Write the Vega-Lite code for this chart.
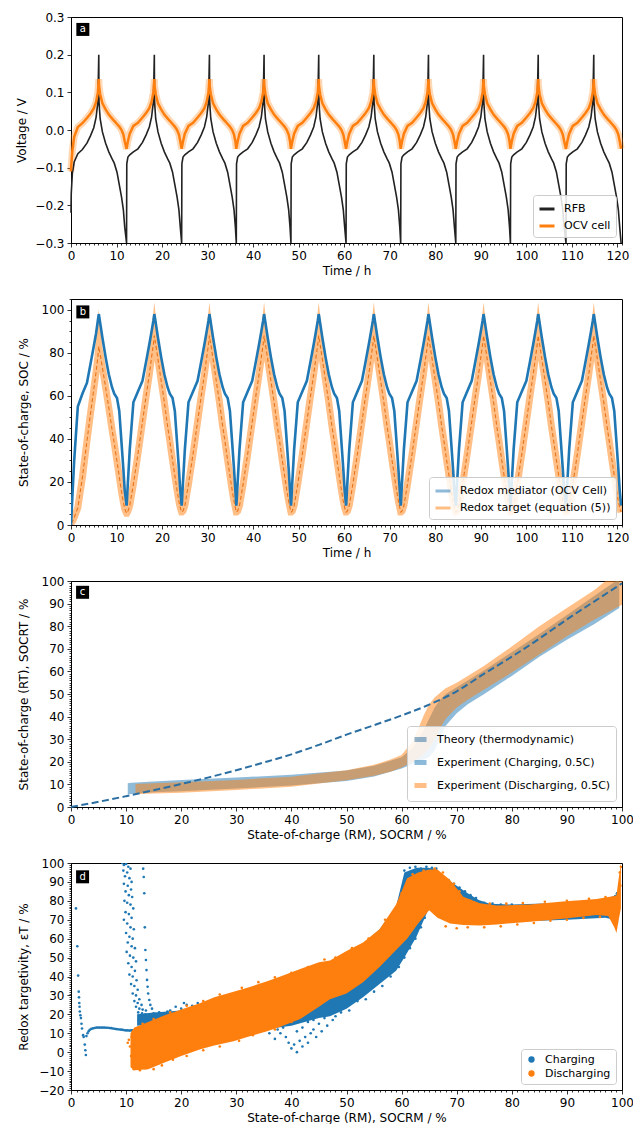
{
"$schema":"https://vega.github.io/schema/vega-lite/v6.json",
"padding":{"left":15,"top":10,"right":0,"bottom":0},
"spacing":56,
"bounds":"flush",
"config":{
 "font":"DejaVu Sans",
 "view":{"stroke":"#000","strokeWidth":1},
 "axis":{"labelFont":"DejaVu Sans","labelFontSize":12,"labelColor":"#000","titleFont":"DejaVu Sans","titleFontSize":12,"titleFontWeight":"normal","titleColor":"#000","domainColor":"#000","domainWidth":1,"tickColor":"#000","tickWidth":0.8,"tickSize":4,"grid":false,"labelFlush":false,"labelOverlap":false,"labelPadding":3},
 "legend":{"labelFont":"DejaVu Sans","labelFontSize":11,"labelColor":"#000","labelLimit":400,"fillColor":"rgba(255,255,255,0.85)","strokeColor":"#cccccc","cornerRadius":3,"padding":5,"offset":6,"labelOffset":8,"rowPadding":2,"orient":"bottom-right"}
},
"datasets":{
"ts":[
{"t":0,"v":-0.22,"o":-0.11,"m":0,"r":1},
{"t":0.05,"v":-0.17,"o":-0.095,"m":2,"r":1},
{"t":0.3,"v":-0.115,"o":-0.055,"m":13,"r":1.5},
{"t":0.7,"v":-0.085,"o":-0.018,"m":30,"r":3.5},
{"t":1.5,"v":-0.063,"o":0.008,"m":55,"r":8},
{"t":2.5,"v":-0.052,"o":0.018,"m":61,"r":22},
{"t":3.5,"v":-0.035,"o":0.032,"m":66,"r":39},
{"t":4.3,"v":-0.015,"o":0.044,"m":75,"r":52},
{"t":5.0,"v":0.006,"o":0.057,"m":83,"r":63},
{"t":5.5,"v":0.033,"o":0.074,"m":89,"r":71},
{"t":5.9,"v":0.073,"o":0.099,"m":95,"r":78},
{"t":6.1,"v":0.2,"o":0.135,"m":98,"r":83},
{"t":6.15,"v":0.075,"o":0.118,"m":97.5,"r":82},
{"t":6.4,"v":0.03,"o":0.095,"m":94,"r":79.5},
{"t":6.9,"v":-0.005,"o":0.071,"m":87,"r":73},
{"t":7.6,"v":-0.035,"o":0.055,"m":78,"r":64},
{"t":8.3,"v":-0.058,"o":0.041,"m":70,"r":54.5},
{"t":9.0,"v":-0.076,"o":0.031,"m":64,"r":44.5},
{"t":9.5,"v":-0.088,"o":0.024,"m":61,"r":38},
{"t":10.1,"v":-0.112,"o":0.016,"m":59,"r":29.5},
{"t":10.6,"v":-0.145,"o":0.009,"m":53,"r":22.5},
{"t":11.1,"v":-0.178,"o":0,"m":38,"r":15.5},
{"t":11.5,"v":-0.212,"o":-0.012,"m":26,"r":10.5},
{"t":11.8,"v":-0.258,"o":-0.03,"m":16,"r":7.5},
{"t":12.2,"v":-0.3,"o":-0.05,"m":9,"r":5.5},
{"t":12.25,"v":-0.09,"o":-0.046,"m":10,"r":5.5},
{"t":12.5,"v":-0.072,"o":-0.03,"m":20,"r":6.5},
{"t":12.9,"v":-0.066,"o":-0.01,"m":35,"r":9},
{"t":13.7,"v":-0.058,"o":0.011,"m":57,"r":19},
{"t":14.7,"v":-0.05,"o":0.019,"m":62,"r":33},
{"t":15.7,"v":-0.033,"o":0.033,"m":67,"r":48},
{"t":16.5,"v":-0.013,"o":0.045,"m":76,"r":60},
{"t":17.2,"v":0.008,"o":0.058,"m":84,"r":70},
{"t":17.7,"v":0.035,"o":0.075,"m":90,"r":78},
{"t":18.1,"v":0.075,"o":0.1,"m":95,"r":84},
{"t":18.3,"v":0.2,"o":0.135,"m":98,"r":88},
{"t":18.35,"v":0.075,"o":0.118,"m":97.5,"r":87},
{"t":18.6,"v":0.03,"o":0.095,"m":94,"r":84},
{"t":19.1,"v":-0.005,"o":0.071,"m":87,"r":77},
{"t":19.8,"v":-0.035,"o":0.055,"m":78,"r":67},
{"t":20.5,"v":-0.058,"o":0.041,"m":70,"r":57},
{"t":21.2,"v":-0.076,"o":0.031,"m":64,"r":46},
{"t":21.7,"v":-0.088,"o":0.024,"m":61,"r":39},
{"t":22.3,"v":-0.112,"o":0.016,"m":59,"r":30},
{"t":22.8,"v":-0.145,"o":0.009,"m":53,"r":23},
{"t":23.3,"v":-0.178,"o":0,"m":38,"r":16},
{"t":23.7,"v":-0.212,"o":-0.012,"m":26,"r":11},
{"t":24.0,"v":-0.258,"o":-0.03,"m":16,"r":8},
{"t":24.3,"v":-0.3,"o":-0.05,"m":9,"r":6},
{"t":24.35,"v":-0.09,"o":-0.046,"m":10,"r":6},
{"t":24.6,"v":-0.072,"o":-0.03,"m":20,"r":6.5},
{"t":25.0,"v":-0.066,"o":-0.01,"m":35,"r":9},
{"t":25.8,"v":-0.058,"o":0.011,"m":57,"r":19},
{"t":26.8,"v":-0.05,"o":0.019,"m":62,"r":33},
{"t":27.8,"v":-0.033,"o":0.033,"m":67,"r":48},
{"t":28.6,"v":-0.013,"o":0.045,"m":76,"r":60},
{"t":29.3,"v":0.008,"o":0.058,"m":84,"r":70},
{"t":29.8,"v":0.035,"o":0.075,"m":90,"r":78},
{"t":30.2,"v":0.075,"o":0.1,"m":95,"r":84},
{"t":30.4,"v":0.2,"o":0.135,"m":98,"r":88},
{"t":30.45,"v":0.075,"o":0.118,"m":97.5,"r":87},
{"t":30.7,"v":0.03,"o":0.095,"m":94,"r":84},
{"t":31.2,"v":-0.005,"o":0.071,"m":87,"r":77},
{"t":31.9,"v":-0.035,"o":0.055,"m":78,"r":67},
{"t":32.6,"v":-0.058,"o":0.041,"m":70,"r":57},
{"t":33.3,"v":-0.076,"o":0.031,"m":64,"r":46},
{"t":33.8,"v":-0.088,"o":0.024,"m":61,"r":39},
{"t":34.4,"v":-0.112,"o":0.016,"m":59,"r":30},
{"t":34.9,"v":-0.145,"o":0.009,"m":53,"r":23},
{"t":35.4,"v":-0.178,"o":0,"m":38,"r":16},
{"t":35.8,"v":-0.212,"o":-0.012,"m":26,"r":11},
{"t":36.1,"v":-0.258,"o":-0.03,"m":16,"r":8},
{"t":36.3,"v":-0.3,"o":-0.05,"m":9,"r":6},
{"t":36.35,"v":-0.09,"o":-0.046,"m":10,"r":6},
{"t":36.6,"v":-0.072,"o":-0.03,"m":20,"r":6.5},
{"t":37.0,"v":-0.066,"o":-0.01,"m":35,"r":9},
{"t":37.8,"v":-0.058,"o":0.011,"m":57,"r":19},
{"t":38.8,"v":-0.05,"o":0.019,"m":62,"r":33},
{"t":39.8,"v":-0.033,"o":0.033,"m":67,"r":48},
{"t":40.6,"v":-0.013,"o":0.045,"m":76,"r":60},
{"t":41.3,"v":0.008,"o":0.058,"m":84,"r":70},
{"t":41.8,"v":0.035,"o":0.075,"m":90,"r":78},
{"t":42.2,"v":0.075,"o":0.1,"m":95,"r":84},
{"t":42.4,"v":0.2,"o":0.135,"m":98,"r":88},
{"t":42.45,"v":0.075,"o":0.118,"m":97.5,"r":87},
{"t":42.7,"v":0.03,"o":0.095,"m":94,"r":84},
{"t":43.2,"v":-0.005,"o":0.071,"m":87,"r":77},
{"t":43.9,"v":-0.035,"o":0.055,"m":78,"r":67},
{"t":44.6,"v":-0.058,"o":0.041,"m":70,"r":57},
{"t":45.3,"v":-0.076,"o":0.031,"m":64,"r":46},
{"t":45.8,"v":-0.088,"o":0.024,"m":61,"r":39},
{"t":46.4,"v":-0.112,"o":0.016,"m":59,"r":30},
{"t":46.9,"v":-0.145,"o":0.009,"m":53,"r":23},
{"t":47.4,"v":-0.178,"o":0,"m":38,"r":16},
{"t":47.8,"v":-0.212,"o":-0.012,"m":26,"r":11},
{"t":48.1,"v":-0.258,"o":-0.03,"m":16,"r":8},
{"t":48.3,"v":-0.3,"o":-0.05,"m":9,"r":6},
{"t":48.35,"v":-0.09,"o":-0.046,"m":10,"r":6},
{"t":48.6,"v":-0.072,"o":-0.03,"m":20,"r":6.5},
{"t":49.0,"v":-0.066,"o":-0.01,"m":35,"r":9},
{"t":49.8,"v":-0.058,"o":0.011,"m":57,"r":19},
{"t":50.8,"v":-0.05,"o":0.019,"m":62,"r":33},
{"t":51.8,"v":-0.033,"o":0.033,"m":67,"r":48},
{"t":52.6,"v":-0.013,"o":0.045,"m":76,"r":60},
{"t":53.3,"v":0.008,"o":0.058,"m":84,"r":70},
{"t":53.8,"v":0.035,"o":0.075,"m":90,"r":78},
{"t":54.2,"v":0.075,"o":0.1,"m":95,"r":84},
{"t":54.4,"v":0.2,"o":0.135,"m":98,"r":88},
{"t":54.45,"v":0.075,"o":0.118,"m":97.5,"r":87},
{"t":54.7,"v":0.03,"o":0.095,"m":94,"r":84},
{"t":55.2,"v":-0.005,"o":0.071,"m":87,"r":77},
{"t":55.9,"v":-0.035,"o":0.055,"m":78,"r":67},
{"t":56.6,"v":-0.058,"o":0.041,"m":70,"r":57},
{"t":57.3,"v":-0.076,"o":0.031,"m":64,"r":46},
{"t":57.8,"v":-0.088,"o":0.024,"m":61,"r":39},
{"t":58.4,"v":-0.112,"o":0.016,"m":59,"r":30},
{"t":58.9,"v":-0.145,"o":0.009,"m":53,"r":23},
{"t":59.4,"v":-0.178,"o":0,"m":38,"r":16},
{"t":59.8,"v":-0.212,"o":-0.012,"m":26,"r":11},
{"t":60.1,"v":-0.258,"o":-0.03,"m":16,"r":8},
{"t":60.4,"v":-0.3,"o":-0.05,"m":9,"r":6},
{"t":60.45,"v":-0.09,"o":-0.046,"m":10,"r":6},
{"t":60.7,"v":-0.072,"o":-0.03,"m":20,"r":6.5},
{"t":61.1,"v":-0.066,"o":-0.01,"m":35,"r":9},
{"t":61.9,"v":-0.058,"o":0.011,"m":57,"r":19},
{"t":62.9,"v":-0.05,"o":0.019,"m":62,"r":33},
{"t":63.9,"v":-0.033,"o":0.033,"m":67,"r":48},
{"t":64.7,"v":-0.013,"o":0.045,"m":76,"r":60},
{"t":65.4,"v":0.008,"o":0.058,"m":84,"r":70},
{"t":65.9,"v":0.035,"o":0.075,"m":90,"r":78},
{"t":66.3,"v":0.075,"o":0.1,"m":95,"r":84},
{"t":66.5,"v":0.2,"o":0.135,"m":98,"r":88},
{"t":66.55,"v":0.075,"o":0.118,"m":97.5,"r":87},
{"t":66.8,"v":0.03,"o":0.095,"m":94,"r":84},
{"t":67.3,"v":-0.005,"o":0.071,"m":87,"r":77},
{"t":68.0,"v":-0.035,"o":0.055,"m":78,"r":67},
{"t":68.7,"v":-0.058,"o":0.041,"m":70,"r":57},
{"t":69.4,"v":-0.076,"o":0.031,"m":64,"r":46},
{"t":69.9,"v":-0.088,"o":0.024,"m":61,"r":39},
{"t":70.5,"v":-0.112,"o":0.016,"m":59,"r":30},
{"t":71.0,"v":-0.145,"o":0.009,"m":53,"r":23},
{"t":71.5,"v":-0.178,"o":0,"m":38,"r":16},
{"t":71.9,"v":-0.212,"o":-0.012,"m":26,"r":11},
{"t":72.2,"v":-0.258,"o":-0.03,"m":16,"r":8},
{"t":72.4,"v":-0.3,"o":-0.05,"m":9,"r":6},
{"t":72.45,"v":-0.09,"o":-0.046,"m":10,"r":6},
{"t":72.7,"v":-0.072,"o":-0.03,"m":20,"r":6.5},
{"t":73.1,"v":-0.066,"o":-0.01,"m":35,"r":9},
{"t":73.9,"v":-0.058,"o":0.011,"m":57,"r":19},
{"t":74.9,"v":-0.05,"o":0.019,"m":62,"r":33},
{"t":75.9,"v":-0.033,"o":0.033,"m":67,"r":48},
{"t":76.7,"v":-0.013,"o":0.045,"m":76,"r":60},
{"t":77.4,"v":0.008,"o":0.058,"m":84,"r":70},
{"t":77.9,"v":0.035,"o":0.075,"m":90,"r":78},
{"t":78.3,"v":0.075,"o":0.1,"m":95,"r":84},
{"t":78.5,"v":0.2,"o":0.135,"m":98,"r":88},
{"t":78.55,"v":0.075,"o":0.118,"m":97.5,"r":87},
{"t":78.8,"v":0.03,"o":0.095,"m":94,"r":84},
{"t":79.3,"v":-0.005,"o":0.071,"m":87,"r":77},
{"t":80.0,"v":-0.035,"o":0.055,"m":78,"r":67},
{"t":80.7,"v":-0.058,"o":0.041,"m":70,"r":57},
{"t":81.4,"v":-0.076,"o":0.031,"m":64,"r":46},
{"t":81.9,"v":-0.088,"o":0.024,"m":61,"r":39},
{"t":82.5,"v":-0.112,"o":0.016,"m":59,"r":30},
{"t":83.0,"v":-0.145,"o":0.009,"m":53,"r":23},
{"t":83.5,"v":-0.178,"o":0,"m":38,"r":16},
{"t":83.9,"v":-0.212,"o":-0.012,"m":26,"r":11},
{"t":84.2,"v":-0.258,"o":-0.03,"m":16,"r":8},
{"t":84.5,"v":-0.3,"o":-0.05,"m":9,"r":6},
{"t":84.55,"v":-0.09,"o":-0.046,"m":10,"r":6},
{"t":84.8,"v":-0.072,"o":-0.03,"m":20,"r":6.5},
{"t":85.2,"v":-0.066,"o":-0.01,"m":35,"r":9},
{"t":86.0,"v":-0.058,"o":0.011,"m":57,"r":19},
{"t":87.0,"v":-0.05,"o":0.019,"m":62,"r":33},
{"t":88.0,"v":-0.033,"o":0.033,"m":67,"r":48},
{"t":88.8,"v":-0.013,"o":0.045,"m":76,"r":60},
{"t":89.5,"v":0.008,"o":0.058,"m":84,"r":70},
{"t":90.0,"v":0.035,"o":0.075,"m":90,"r":78},
{"t":90.4,"v":0.075,"o":0.1,"m":95,"r":84},
{"t":90.6,"v":0.2,"o":0.135,"m":98,"r":88},
{"t":90.65,"v":0.075,"o":0.118,"m":97.5,"r":87},
{"t":90.9,"v":0.03,"o":0.095,"m":94,"r":84},
{"t":91.4,"v":-0.005,"o":0.071,"m":87,"r":77},
{"t":92.1,"v":-0.035,"o":0.055,"m":78,"r":67},
{"t":92.8,"v":-0.058,"o":0.041,"m":70,"r":57},
{"t":93.5,"v":-0.076,"o":0.031,"m":64,"r":46},
{"t":94.0,"v":-0.088,"o":0.024,"m":61,"r":39},
{"t":94.6,"v":-0.112,"o":0.016,"m":59,"r":30},
{"t":95.1,"v":-0.145,"o":0.009,"m":53,"r":23},
{"t":95.6,"v":-0.178,"o":0,"m":38,"r":16},
{"t":96.0,"v":-0.212,"o":-0.012,"m":26,"r":11},
{"t":96.3,"v":-0.258,"o":-0.03,"m":16,"r":8},
{"t":96.5,"v":-0.3,"o":-0.05,"m":9,"r":6},
{"t":96.55,"v":-0.09,"o":-0.046,"m":10,"r":6},
{"t":96.8,"v":-0.072,"o":-0.03,"m":20,"r":6.5},
{"t":97.2,"v":-0.066,"o":-0.01,"m":35,"r":9},
{"t":98.0,"v":-0.058,"o":0.011,"m":57,"r":19},
{"t":99.0,"v":-0.05,"o":0.019,"m":62,"r":33},
{"t":100.0,"v":-0.033,"o":0.033,"m":67,"r":48},
{"t":100.8,"v":-0.013,"o":0.045,"m":76,"r":60},
{"t":101.5,"v":0.008,"o":0.058,"m":84,"r":70},
{"t":102.0,"v":0.035,"o":0.075,"m":90,"r":78},
{"t":102.4,"v":0.075,"o":0.1,"m":95,"r":84},
{"t":102.6,"v":0.2,"o":0.135,"m":98,"r":88},
{"t":102.65,"v":0.075,"o":0.118,"m":97.5,"r":87},
{"t":102.9,"v":0.03,"o":0.095,"m":94,"r":84},
{"t":103.4,"v":-0.005,"o":0.071,"m":87,"r":77},
{"t":104.1,"v":-0.035,"o":0.055,"m":78,"r":67},
{"t":104.8,"v":-0.058,"o":0.041,"m":70,"r":57},
{"t":105.5,"v":-0.076,"o":0.031,"m":64,"r":46},
{"t":106.0,"v":-0.088,"o":0.024,"m":61,"r":39},
{"t":106.6,"v":-0.112,"o":0.016,"m":59,"r":30},
{"t":107.1,"v":-0.145,"o":0.009,"m":53,"r":23},
{"t":107.6,"v":-0.178,"o":0,"m":38,"r":16},
{"t":108.0,"v":-0.212,"o":-0.012,"m":26,"r":11},
{"t":108.3,"v":-0.258,"o":-0.03,"m":16,"r":8},
{"t":108.7,"v":-0.3,"o":-0.05,"m":9,"r":6},
{"t":108.75,"v":-0.09,"o":-0.046,"m":10,"r":6},
{"t":109.0,"v":-0.072,"o":-0.03,"m":20,"r":6.5},
{"t":109.4,"v":-0.066,"o":-0.01,"m":35,"r":9},
{"t":110.2,"v":-0.058,"o":0.011,"m":57,"r":19},
{"t":111.2,"v":-0.05,"o":0.019,"m":62,"r":33},
{"t":112.2,"v":-0.033,"o":0.033,"m":67,"r":48},
{"t":113.0,"v":-0.013,"o":0.045,"m":76,"r":60},
{"t":113.7,"v":0.008,"o":0.058,"m":84,"r":70},
{"t":114.2,"v":0.035,"o":0.075,"m":90,"r":78},
{"t":114.6,"v":0.075,"o":0.1,"m":95,"r":84},
{"t":114.8,"v":0.2,"o":0.135,"m":98,"r":88},
{"t":114.85,"v":0.075,"o":0.118,"m":97.5,"r":87},
{"t":115.1,"v":0.03,"o":0.095,"m":94,"r":84},
{"t":115.6,"v":-0.005,"o":0.071,"m":87,"r":77},
{"t":116.3,"v":-0.035,"o":0.055,"m":78,"r":67},
{"t":117.0,"v":-0.058,"o":0.041,"m":70,"r":57},
{"t":117.7,"v":-0.076,"o":0.031,"m":64,"r":46},
{"t":118.2,"v":-0.088,"o":0.024,"m":61,"r":39},
{"t":118.8,"v":-0.112,"o":0.016,"m":59,"r":30},
{"t":119.3,"v":-0.145,"o":0.009,"m":53,"r":23},
{"t":119.8,"v":-0.178,"o":0,"m":38,"r":16},
{"t":120.2,"v":-0.212,"o":-0.012,"m":26,"r":11},
{"t":120.5,"v":-0.258,"o":-0.03,"m":16,"r":8},
{"t":120.8,"v":-0.3,"o":-0.05,"m":9,"r":6}
],
"th":[{"x":0,"y":0},{"x":5,"y":2.3},{"x":10,"y":4.8},{"x":15,"y":7.4},{"x":20,"y":10.2},{"x":25,"y":13.1},{"x":30,"y":16.3},{"x":35,"y":19.7},{"x":40,"y":23.3},{"x":45,"y":27.5},{"x":50,"y":32},{"x":55,"y":36.2},{"x":60,"y":40.5},{"x":65,"y":45.3},{"x":70,"y":51.2},{"x":75,"y":59},{"x":80,"y":66.5},{"x":85,"y":74.5},{"x":90,"y":83},{"x":95,"y":91},{"x":100,"y":99}],
"chg":[{"x":10.3,"lo":5.5,"hi":10.5},{"x":11,"lo":5.8,"hi":10.7},{"x":15,"lo":6.5,"hi":11.3},{"x":20,"lo":7,"hi":12},{"x":30,"lo":8.2,"hi":13},{"x":40,"lo":9.5,"hi":14.3},{"x":50,"lo":11.5,"hi":16.2},{"x":55,"lo":13.5,"hi":18.2},{"x":60,"lo":17,"hi":22},{"x":62,"lo":19,"hi":26},{"x":64,"lo":21,"hi":34},{"x":65,"lo":22,"hi":39},{"x":66,"lo":25,"hi":44},{"x":67,"lo":31,"hi":47.5},{"x":68,"lo":36,"hi":50},{"x":70,"lo":41.5,"hi":53},{"x":72,"lo":45.5,"hi":56},{"x":75,"lo":50,"hi":60.5},{"x":80,"lo":58,"hi":68.5},{"x":85,"lo":66.5,"hi":76.5},{"x":90,"lo":74,"hi":85},{"x":95,"lo":81,"hi":93.5},{"x":99.5,"lo":88,"hi":101}],
"dis":[{"x":11.7,"lo":5.6,"hi":10.2},{"x":15,"lo":6,"hi":10.5},{"x":20,"lo":6.3,"hi":11},{"x":30,"lo":7.5,"hi":12},{"x":40,"lo":9,"hi":13.4},{"x":50,"lo":11.8,"hi":16.3},{"x":55,"lo":13.8,"hi":18.7},{"x":58,"lo":15.6,"hi":21},{"x":60,"lo":17.5,"hi":23},{"x":62,"lo":20,"hi":29},{"x":63,"lo":21.5,"hi":34.5},{"x":64,"lo":23.5,"hi":40.5},{"x":65,"lo":26,"hi":45.5},{"x":66,"lo":30,"hi":48.5},{"x":67,"lo":35,"hi":50.5},{"x":68,"lo":39,"hi":52.5},{"x":70,"lo":44,"hi":55},{"x":72,"lo":47.5,"hi":58},{"x":75,"lo":52,"hi":62.5},{"x":80,"lo":59.5,"hi":71},{"x":85,"lo":67.5,"hi":80},{"x":90,"lo":75.5,"hi":88},{"x":95,"lo":83,"hi":96},{"x":100,"lo":89.5,"hi":106}],
"dblue":[{"x":12,"lo":14,"hi":20},{"x":15,"lo":15,"hi":21},{"x":20,"lo":15,"hi":22},{"x":25,"lo":13,"hi":25},{"x":30,"lo":12,"hi":27},{"x":35,"lo":12,"hi":31},{"x":40,"lo":14,"hi":36},{"x":45,"lo":18,"hi":41},{"x":47,"lo":19,"hi":44},{"x":50,"lo":23,"hi":50},{"x":53,"lo":29,"hi":57},{"x":56,"lo":36,"hi":65},{"x":59,"lo":43,"hi":77},{"x":60.5,"lo":50,"hi":95},{"x":62.7,"lo":61,"hi":97.5},{"x":64.8,"lo":75,"hi":97.5},{"x":66,"lo":76,"hi":97},{"x":67,"lo":72,"hi":94},{"x":68,"lo":70,"hi":92},{"x":70,"lo":69,"hi":88},{"x":72,"lo":68,"hi":84},{"x":74,"lo":68,"hi":80.5},{"x":76,"lo":68,"hi":78.5},{"x":80,"lo":69,"hi":78},{"x":90,"lo":70,"hi":79},{"x":97,"lo":71,"hi":81},{"x":98.5,"lo":70,"hi":82.5},{"x":99.3,"lo":68,"hi":84}],
"dorange":[{"x":10.8,"lo":-8,"hi":10},{"x":11.5,"lo":-9.5,"hi":13},{"x":14,"lo":-9,"hi":16},{"x":17,"lo":-5.5,"hi":19.5},{"x":20,"lo":-2,"hi":22.5},{"x":23.5,"lo":1.5,"hi":26},{"x":26,"lo":3.5,"hi":29},{"x":29.5,"lo":5.8,"hi":32},{"x":32,"lo":8,"hi":34},{"x":35.6,"lo":11,"hi":37.5},{"x":38,"lo":13.5,"hi":40},{"x":41.6,"lo":17.5,"hi":44},{"x":45,"lo":24,"hi":47.5},{"x":47,"lo":28,"hi":48.5},{"x":50,"lo":31,"hi":53.5},{"x":53,"lo":37,"hi":58},{"x":56,"lo":45,"hi":65},{"x":59,"lo":54,"hi":78},{"x":61,"lo":60,"hi":92},{"x":63,"lo":68,"hi":95},{"x":65,"lo":75,"hi":96.5},{"x":66.5,"lo":71,"hi":96.5},{"x":68.8,"lo":68,"hi":91},{"x":71.2,"lo":67.2,"hi":82.2},{"x":74.2,"lo":67,"hi":78.7},{"x":77.3,"lo":67.5,"hi":77.5},{"x":83.3,"lo":69,"hi":78},{"x":89.3,"lo":70.5,"hi":79.6},{"x":95.4,"lo":72.5,"hi":81},{"x":97.5,"lo":72,"hi":82},{"x":98.6,"lo":66,"hi":82.5},{"x":99,"lo":63,"hi":83},{"x":99.4,"lo":70,"hi":92},{"x":99.8,"lo":76,"hi":100}],
"dc":[
{"x":0.9,"y":76},{"x":1.15,"y":56},{"x":1.3,"y":40.5},{"x":1.4,"y":32},{"x":1.45,"y":29},{"x":1.5,"y":26},{"x":1.55,"y":24},{"x":1.6,"y":21.5},{"x":1.7,"y":19.5},{"x":1.8,"y":18},{"x":1.9,"y":15},{"x":2.0,"y":12.5},{"x":2.2,"y":9},{"x":2.3,"y":8},{"x":2.5,"y":4},{"x":2.6,"y":1},{"x":2.7,"y":-1.5},
{"x":2.8,"y":8.5},{"x":3.0,"y":10},{"x":3.2,"y":11},{"x":3.4,"y":11.8},{"x":3.7,"y":12.3},{"x":4.0,"y":12.6},{"x":4.3,"y":12.8},{"x":4.6,"y":13},{"x":4.9,"y":13},{"x":5.2,"y":13},{"x":5.5,"y":13},{"x":5.8,"y":13},{"x":6.1,"y":13},{"x":6.4,"y":12.9},{"x":6.7,"y":12.9},{"x":7.0,"y":12.8},{"x":7.3,"y":12.7},{"x":7.6,"y":12.5},{"x":7.9,"y":12.4},{"x":8.2,"y":12.2},{"x":8.5,"y":12.1},{"x":8.8,"y":12},{"x":9.1,"y":11.9},{"x":9.4,"y":11.8},{"x":9.7,"y":11.6},{"x":10.0,"y":11.5},{"x":10.3,"y":11.5},{"x":10.6,"y":11.4},{"x":10.9,"y":11.5},{"x":11.2,"y":11.5},{"x":11.5,"y":11.6},{"x":11.8,"y":11.6},{"x":12.1,"y":11.7},
{"x":9.3,"y":100},{"x":9.6,"y":99},{"x":10.0,"y":99.5},{"x":10.4,"y":98},{"x":10.8,"y":97},{"x":9.5,"y":96},{"x":10.2,"y":95},{"x":9.8,"y":93},{"x":10.6,"y":92},{"x":11.0,"y":90},{"x":9.6,"y":89},{"x":10.3,"y":88},{"x":10.9,"y":86},{"x":9.9,"y":85},{"x":10.5,"y":83},{"x":11.1,"y":82},{"x":9.7,"y":80},{"x":10.2,"y":79},{"x":10.8,"y":78},{"x":11.3,"y":76},{"x":9.9,"y":74},{"x":10.5,"y":73},{"x":11.0,"y":71},{"x":9.6,"y":70},{"x":10.2,"y":68},{"x":10.8,"y":66},{"x":11.4,"y":65},{"x":10.0,"y":63},{"x":10.6,"y":61},{"x":11.2,"y":60},{"x":10.3,"y":58},{"x":11.0,"y":56},{"x":11.6,"y":55},{"x":10.1,"y":53},{"x":10.7,"y":51},{"x":11.3,"y":50},{"x":11.8,"y":48},{"x":10.4,"y":47},{"x":11.0,"y":45},{"x":11.6,"y":43},{"x":10.6,"y":41},{"x":11.2,"y":40},{"x":11.9,"y":38},{"x":10.9,"y":36},{"x":11.5,"y":35},{"x":12.1,"y":33},{"x":11.2,"y":31},{"x":11.8,"y":30},{"x":12.4,"y":28},{"x":11.5,"y":27},{"x":12.1,"y":26},{"x":12.8,"y":25},{"x":11.8,"y":24},{"x":12.4,"y":23},{"x":13.0,"y":22.5},{"x":13.6,"y":22},{"x":12.2,"y":21},{"x":12.9,"y":20.5},{"x":13.5,"y":20},{"x":14.2,"y":19.5},{"x":12.6,"y":19},{"x":13.3,"y":18.5},{"x":14.0,"y":18},{"x":14.8,"y":17.5},{"x":15.5,"y":17},{"x":12.3,"y":17},{"x":13.0,"y":16.5},{"x":13.8,"y":16},{"x":14.6,"y":15.8},{"x":15.4,"y":15.5},{"x":16.2,"y":16},{"x":17,"y":16.5},{"x":16.5,"y":18},{"x":17.5,"y":19},{"x":18.5,"y":18},{"x":19,"y":20},{"x":20,"y":19.5},{"x":15,"y":20.5},{"x":16,"y":21},{"x":17.5,"y":21.5},
{"x":13.1,"y":97},{"x":13.2,"y":92.6},{"x":13.3,"y":84},{"x":13.4,"y":66},{"x":13.5,"y":54},{"x":13.6,"y":48.7},{"x":13.7,"y":43.4},{"x":13.8,"y":38.2},{"x":13.9,"y":34.6},{"x":14.0,"y":31},{"x":14.2,"y":27.6},{"x":14.4,"y":25},{"x":14.7,"y":23},
{"x":18,"y":22},{"x":19,"y":24},{"x":20,"y":23},{"x":21,"y":25},{"x":21.5,"y":21},{"x":22,"y":24.5},{"x":22.5,"y":22},{"x":23,"y":26},{"x":23.5,"y":23},{"x":24,"y":21},{"x":20.5,"y":26},
{"x":35,"y":20},{"x":36,"y":17},{"x":36.5,"y":14},{"x":37,"y":15},{"x":37.5,"y":12},{"x":38,"y":10},{"x":38.5,"y":13},{"x":39,"y":8},{"x":39.5,"y":5},{"x":40,"y":2},{"x":40.5,"y":4},{"x":41,"y":0},{"x":41.5,"y":6},{"x":42,"y":3},{"x":42.5,"y":8},{"x":43,"y":5},{"x":43.5,"y":10},{"x":44,"y":12},{"x":44.5,"y":8},{"x":45,"y":15},{"x":45.5,"y":11},{"x":46,"y":18},{"x":46.5,"y":14},{"x":38,"y":17},{"x":40,"y":15},{"x":42,"y":13},{"x":44,"y":17},{"x":39,"y":19},{"x":41,"y":11},{"x":43,"y":16},{"x":37,"y":7},{"x":36,"y":10},{"x":47,"y":21},{"x":48,"y":19},{"x":48,"y":24},
{"x":47.5,"y":17},{"x":49,"y":21},{"x":50.5,"y":22},{"x":52,"y":27},{"x":53.5,"y":28},{"x":55,"y":32},{"x":56.5,"y":35},{"x":58,"y":40},{"x":59.5,"y":45},{"x":60.5,"y":50},{"x":61.5,"y":55},{"x":62.5,"y":60},{"x":63.5,"y":66},{"x":64.2,"y":71},{"x":64.8,"y":76},{"x":65,"y":80},
{"x":60.5,"y":96},{"x":61.5,"y":97.5},{"x":62.5,"y":98},{"x":63.5,"y":97},{"x":64.5,"y":98},{"x":65.5,"y":97.5},{"x":66.3,"y":97},
{"x":68.5,"y":91},{"x":69.5,"y":89},{"x":70.5,"y":87},{"x":71.5,"y":85},{"x":72.5,"y":83},{"x":73.5,"y":81.5},{"x":75,"y":79},{"x":76.5,"y":78.5},{"x":78,"y":78},{"x":80,"y":78},
{"x":98.8,"y":82.5},{"x":99.1,"y":84},{"x":99.3,"y":83}
],
"dd":[
{"x":10.3,"y":5},{"x":10.5,"y":6.5},{"x":10.7,"y":3},{"x":10.9,"y":-2},{"x":11.0,"y":8},{"x":11.2,"y":-6},{"x":11.4,"y":-9},{"x":11.3,"y":11},{"x":12.5,"y":-9.5},{"x":13.5,"y":-8.5},{"x":15,"y":-9},{"x":16.5,"y":-7},{"x":18.5,"y":-4},{"x":21,"y":-2},{"x":24,"y":1},{"x":27,"y":3},{"x":30.5,"y":6},{"x":33,"y":9},{"x":37,"y":12},{"x":40,"y":16},
{"x":13,"y":15},{"x":15,"y":17.5},{"x":18,"y":21},{"x":21,"y":24.5},{"x":24,"y":27},{"x":27,"y":30.5},{"x":31,"y":34},{"x":34,"y":37},{"x":37,"y":39.5},{"x":40,"y":42},{"x":43,"y":45},{"x":45,"y":46.5},{"x":46,"y":49},{"x":48,"y":50},{"x":51,"y":55},{"x":54,"y":60},{"x":57,"y":70},{"x":60,"y":84},{"x":62,"y":94},{"x":64,"y":96},{"x":66,"y":97},{"x":67.5,"y":95},{"x":69.5,"y":89},{"x":70.5,"y":85},{"x":72.5,"y":80},{"x":76,"y":78.5},{"x":79,"y":78.5},{"x":82,"y":78.8},{"x":86,"y":79.5},{"x":90,"y":80},{"x":94,"y":81},{"x":97,"y":82},
{"x":68,"y":66.5},{"x":70,"y":65.5},{"x":72,"y":66},{"x":75,"y":66},{"x":78,"y":66.5},{"x":81,"y":67.5},{"x":84,"y":68.3},{"x":87,"y":69.5},{"x":90,"y":70},{"x":93,"y":71},{"x":96,"y":71.5},
{"x":99.6,"y":95},{"x":99.8,"y":98},{"x":99.7,"y":88}
]
},
"vconcat":[
{
 "width":551,"height":226,
 "resolve":{"axis":{"x":"independent","y":"independent"}},
 "layer":[
  {"data":{"name":"ts"},"mark":{"type":"line","strokeWidth":7,"opacity":0.3,"color":"#ff7f0e"},
   "encoding":{
    "x":{"field":"t","type":"quantitative","scale":{"domain":[0,121],"nice":false,"zero":false},
     "axis":{"title":"Time / h","orient":"bottom","labelOverlap":false,"values":[0,10,20,30,40,50,60,70,80,90,100,110,120],"titlePadding":4}},
    "y":{"field":"o","type":"quantitative","scale":{"domain":[-0.3,0.3],"nice":false,"zero":false},
     "axis":{"title":"Voltage / V","orient":"left","labelOverlap":false,"values":[-0.3,-0.2,-0.1,0,0.1,0.2,0.3],"format":".1f","titlePadding":6}}
   }},
  {"data":{"name":"ts"},"mark":{"type":"line","strokeWidth":1.6},
   "encoding":{"x":{"field":"t","type":"quantitative","axis":{"orient":"bottom","title":null,"labels":false,"domain":false,"tickSize":2,"values":[1,2,3,4,5,6,7,8,9,11,12,13,14,15,16,17,18,19,21,22,23,24,25,26,27,28,29,31,32,33,34,35,36,37,38,39,41,42,43,44,45,46,47,48,49,51,52,53,54,55,56,57,58,59,61,62,63,64,65,66,67,68,69,71,72,73,74,75,76,77,78,79,81,82,83,84,85,86,87,88,89,91,92,93,94,95,96,97,98,99,101,102,103,104,105,106,107,108,109,111,112,113,114,115,116,117,118,119,121]}},"y":{"field":"v","type":"quantitative","axis":null},
    "color":{"datum":"RFB","scale":{"domain":["RFB","OCV cell"],"range":["#222222","#ff7f0e"]},"legend":{"title":null,"symbolType":"stroke","symbolStrokeWidth":3,"symbolSize":225}}}},
  {"data":{"name":"ts"},"mark":{"type":"line","strokeWidth":2.5},
   "encoding":{"x":{"field":"t","type":"quantitative","axis":null},"y":{"field":"o","type":"quantitative","axis":null},
    "color":{"datum":"OCV cell","legend":{"title":null,"symbolType":"stroke","symbolStrokeWidth":3,"symbolSize":225}}}},
  {"data":{"values":[{"x":2.6,"y":0.267,"l":"a"}]},
   "layer":[
    {"mark":{"type":"point","shape":"square","filled":true,"color":"#000","size":169,"opacity":1},
     "encoding":{"x":{"field":"x","type":"quantitative","axis":null},"y":{"field":"y","type":"quantitative","axis":null}}},
    {"mark":{"type":"text","color":"#fff","fontSize":10,"baseline":"middle","align":"center"},
     "encoding":{"x":{"field":"x","type":"quantitative","axis":null},"y":{"field":"y","type":"quantitative","axis":null},"text":{"field":"l"}}}
   ]}
 ]
},
{
 "width":551,"height":226,
 "resolve":{"axis":{"x":"independent","y":"independent"}},
 "layer":[
  {"data":{"name":"ts"},"mark":{"type":"line","strokeWidth":7,"opacity":0.5,"strokeJoin":"miter","strokeMiterLimit":12,"clip":true},
   "encoding":{
    "x":{"field":"t","type":"quantitative","scale":{"domain":[0,121],"nice":false,"zero":false},
     "axis":{"title":"Time / h","orient":"bottom","labelOverlap":false,"values":[0,10,20,30,40,50,60,70,80,90,100,110,120],"titlePadding":4}},
    "y":{"field":"r","type":"quantitative","scale":{"domain":[0,105],"nice":false,"zero":false},
     "axis":{"title":"State-of-charge, SOC / %","orient":"left","labelOverlap":false,"values":[0,20,40,60,80,100],"titlePadding":11}},
    "color":{"datum":"Redox target (equation (5))","scale":{"domain":["Redox mediator (OCV Cell)","Redox target (equation (5))"],"range":["#1f77b4","#ff7f0e"]},"legend":{"title":null,"symbolType":"stroke","symbolStrokeWidth":3,"symbolSize":225}}
   }},
  {"data":{"name":"ts"},"mark":{"type":"line","strokeWidth":1.1,"strokeDash":[4,2.5],"color":"#e8741a","clip":true},
   "encoding":{"x":{"field":"t","type":"quantitative","axis":{"orient":"bottom","title":null,"labels":false,"domain":false,"tickSize":2,"values":[1,2,3,4,5,6,7,8,9,11,12,13,14,15,16,17,18,19,21,22,23,24,25,26,27,28,29,31,32,33,34,35,36,37,38,39,41,42,43,44,45,46,47,48,49,51,52,53,54,55,56,57,58,59,61,62,63,64,65,66,67,68,69,71,72,73,74,75,76,77,78,79,81,82,83,84,85,86,87,88,89,91,92,93,94,95,96,97,98,99,101,102,103,104,105,106,107,108,109,111,112,113,114,115,116,117,118,119,121]}},
    "y":{"field":"r","type":"quantitative","axis":{"orient":"left","title":null,"labels":false,"domain":false,"tickSize":2,"values":[5,10,15,25,30,35,45,50,55,65,70,75,85,90,95,105]}}}},
  {"data":{"name":"ts"},"mark":{"type":"line","strokeWidth":2.6,"clip":true},
   "encoding":{"x":{"field":"t","type":"quantitative","axis":null},"y":{"field":"m","type":"quantitative","axis":null},
    "color":{"datum":"Redox mediator (OCV Cell)","legend":{"title":null,"symbolType":"stroke","symbolStrokeWidth":3,"symbolSize":225}}}},
  {"data":{"values":[{"x":2.6,"y":99,"l":"b"}]},
   "layer":[
    {"mark":{"type":"point","shape":"square","filled":true,"color":"#000","size":169,"opacity":1},
     "encoding":{"x":{"field":"x","type":"quantitative","axis":null},"y":{"field":"y","type":"quantitative","axis":null}}},
    {"mark":{"type":"text","color":"#fff","fontSize":10,"baseline":"middle","align":"center"},
     "encoding":{"x":{"field":"x","type":"quantitative","axis":null},"y":{"field":"y","type":"quantitative","axis":null},"text":{"field":"l"}}}
   ]}
 ]
},
{
 "width":551,"height":226,
 "resolve":{"axis":{"x":"independent","y":"independent"}},
 "layer":[
  {"data":{"name":"chg"},"mark":{"type":"area","opacity":0.5,"clip":true},
   "encoding":{
    "x":{"field":"x","type":"quantitative","scale":{"domain":[0,100],"nice":false,"zero":false},
     "axis":{"title":"State-of-charge (RM), SOCRM / %","orient":"bottom","labelOverlap":false,"values":[0,10,20,30,40,50,60,70,80,90,100],"titlePadding":4}},
    "y":{"field":"lo","type":"quantitative","scale":{"domain":[0,100],"nice":false,"zero":false},
     "axis":{"title":"State-of-charge (RT), SOCRT / %","orient":"left","labelOverlap":false,"values":[0,10,20,30,40,50,60,70,80,90,100],"titlePadding":11}},
    "y2":{"field":"hi"},
    "color":{"datum":"Experiment (Charging, 0.5C)","scale":{"domain":["Theory (thermodynamic)","Experiment (Charging, 0.5C)","Experiment (Discharging, 0.5C)"],"range":["#2b6ea1","#1f77b4","#ff7f0e"]},"legend":{"title":null,"symbolType":"stroke","symbolStrokeWidth":5,"symbolSize":144}}
   }},
  {"data":{"name":"dis"},"mark":{"type":"area","opacity":0.5,"clip":true},
   "encoding":{"x":{"field":"x","type":"quantitative","axis":{"orient":"bottom","title":null,"labels":false,"domain":false,"tickSize":2,"values":[1,2,3,4,5,6,7,8,9,11,12,13,14,15,16,17,18,19,21,22,23,24,25,26,27,28,29,31,32,33,34,35,36,37,38,39,41,42,43,44,45,46,47,48,49,51,52,53,54,55,56,57,58,59,61,62,63,64,65,66,67,68,69,71,72,73,74,75,76,77,78,79,81,82,83,84,85,86,87,88,89,91,92,93,94,95,96,97,98,99]}},
    "y":{"field":"lo","type":"quantitative","axis":{"orient":"left","title":null,"labels":false,"domain":false,"tickSize":2,"values":[1,2,3,4,5,6,7,8,9,11,12,13,14,15,16,17,18,19,21,22,23,24,25,26,27,28,29,31,32,33,34,35,36,37,38,39,41,42,43,44,45,46,47,48,49,51,52,53,54,55,56,57,58,59,61,62,63,64,65,66,67,68,69,71,72,73,74,75,76,77,78,79,81,82,83,84,85,86,87,88,89,91,92,93,94,95,96,97,98,99]}},"y2":{"field":"hi"},
    "color":{"datum":"Experiment (Discharging, 0.5C)","legend":{"title":null,"symbolType":"stroke","symbolStrokeWidth":5,"symbolSize":144}}}},
  {"data":{"name":"th"},"mark":{"type":"line","strokeWidth":2,"strokeDash":[7,3.5],"interpolate":"monotone"},
   "encoding":{"x":{"field":"x","type":"quantitative","axis":null},"y":{"field":"y","type":"quantitative","axis":null},
    "color":{"datum":"Theory (thermodynamic)","legend":{"title":null,"symbolType":"stroke","symbolStrokeWidth":5,"symbolSize":144}}}},
  {"data":{"values":[{"x":2.1,"y":95,"l":"c"}]},
   "layer":[
    {"mark":{"type":"point","shape":"square","filled":true,"color":"#000","size":169,"opacity":1},
     "encoding":{"x":{"field":"x","type":"quantitative","axis":null},"y":{"field":"y","type":"quantitative","axis":null}}},
    {"mark":{"type":"text","color":"#fff","fontSize":10,"baseline":"middle","align":"center"},
     "encoding":{"x":{"field":"x","type":"quantitative","axis":null},"y":{"field":"y","type":"quantitative","axis":null},"text":{"field":"l"}}}
   ]}
 ]
},
{
 "width":551,"height":227,
 "resolve":{"axis":{"x":"independent","y":"independent"}},
 "layer":[
  {"data":{"name":"dblue"},"mark":{"type":"area","color":"#1f77b4","clip":true},
   "encoding":{
    "x":{"field":"x","type":"quantitative","scale":{"domain":[0,100],"nice":false,"zero":false},
     "axis":{"title":"State-of-charge (RM), SOCRM / %","orient":"bottom","labelOverlap":false,"values":[0,10,20,30,40,50,60,70,80,90,100],"titlePadding":4}},
    "y":{"field":"lo","type":"quantitative","scale":{"domain":[-20,100],"nice":false,"zero":false},
     "axis":{"title":"Redox targetivity, εT / %","orient":"left","labelOverlap":false,"values":[-20,-10,0,10,20,30,40,50,60,70,80,90,100],"titlePadding":8}},
    "y2":{"field":"hi"}
   }},
  {"data":{"name":"dc"},"mark":{"type":"point","filled":true,"size":7,"opacity":1,"clip":true},
   "encoding":{"x":{"field":"x","type":"quantitative","axis":{"orient":"bottom","title":null,"labels":false,"domain":false,"tickSize":2,"values":[1,2,3,4,5,6,7,8,9,11,12,13,14,15,16,17,18,19,21,22,23,24,25,26,27,28,29,31,32,33,34,35,36,37,38,39,41,42,43,44,45,46,47,48,49,51,52,53,54,55,56,57,58,59,61,62,63,64,65,66,67,68,69,71,72,73,74,75,76,77,78,79,81,82,83,84,85,86,87,88,89,91,92,93,94,95,96,97,98,99]}},
    "y":{"field":"y","type":"quantitative","axis":{"orient":"left","title":null,"labels":false,"domain":false,"tickSize":2,"values":[-19,-18,-17,-16,-15,-14,-13,-12,-11,-9,-8,-7,-6,-5,-4,-3,-2,-1,1,2,3,4,5,6,7,8,9,11,12,13,14,15,16,17,18,19,21,22,23,24,25,26,27,28,29,31,32,33,34,35,36,37,38,39,41,42,43,44,45,46,47,48,49,51,52,53,54,55,56,57,58,59,61,62,63,64,65,66,67,68,69,71,72,73,74,75,76,77,78,79,81,82,83,84,85,86,87,88,89,91,92,93,94,95,96,97,98,99]}},
    "color":{"datum":"Charging","scale":{"domain":["Charging","Discharging"],"range":["#1f77b4","#ff7f0e"]},"legend":{"title":null,"symbolSize":40,"symbolType":"circle"}}}},
  {"data":{"name":"dorange"},"mark":{"type":"area","color":"#ff7f0e","clip":true},
   "encoding":{"x":{"field":"x","type":"quantitative","axis":null},"y":{"field":"lo","type":"quantitative","axis":null},"y2":{"field":"hi"}}},
  {"data":{"name":"dd"},"mark":{"type":"point","filled":true,"size":7,"opacity":1,"clip":true},
   "encoding":{"x":{"field":"x","type":"quantitative","axis":null},"y":{"field":"y","type":"quantitative","axis":null},
    "color":{"datum":"Discharging","legend":{"title":null,"symbolSize":40,"symbolType":"circle"}}}},
  {"data":{"values":[{"x":2.1,"y":92.7,"l":"d"}]},
   "layer":[
    {"mark":{"type":"point","shape":"square","filled":true,"color":"#000","size":169,"opacity":1},
     "encoding":{"x":{"field":"x","type":"quantitative","axis":null},"y":{"field":"y","type":"quantitative","axis":null}}},
    {"mark":{"type":"text","color":"#fff","fontSize":10,"baseline":"middle","align":"center"},
     "encoding":{"x":{"field":"x","type":"quantitative","axis":null},"y":{"field":"y","type":"quantitative","axis":null},"text":{"field":"l"}}}
   ]}
 ]
}
],
"resolve":{"scale":{"color":"independent","x":"independent","y":"independent"},"legend":{"color":"independent"}}
}
